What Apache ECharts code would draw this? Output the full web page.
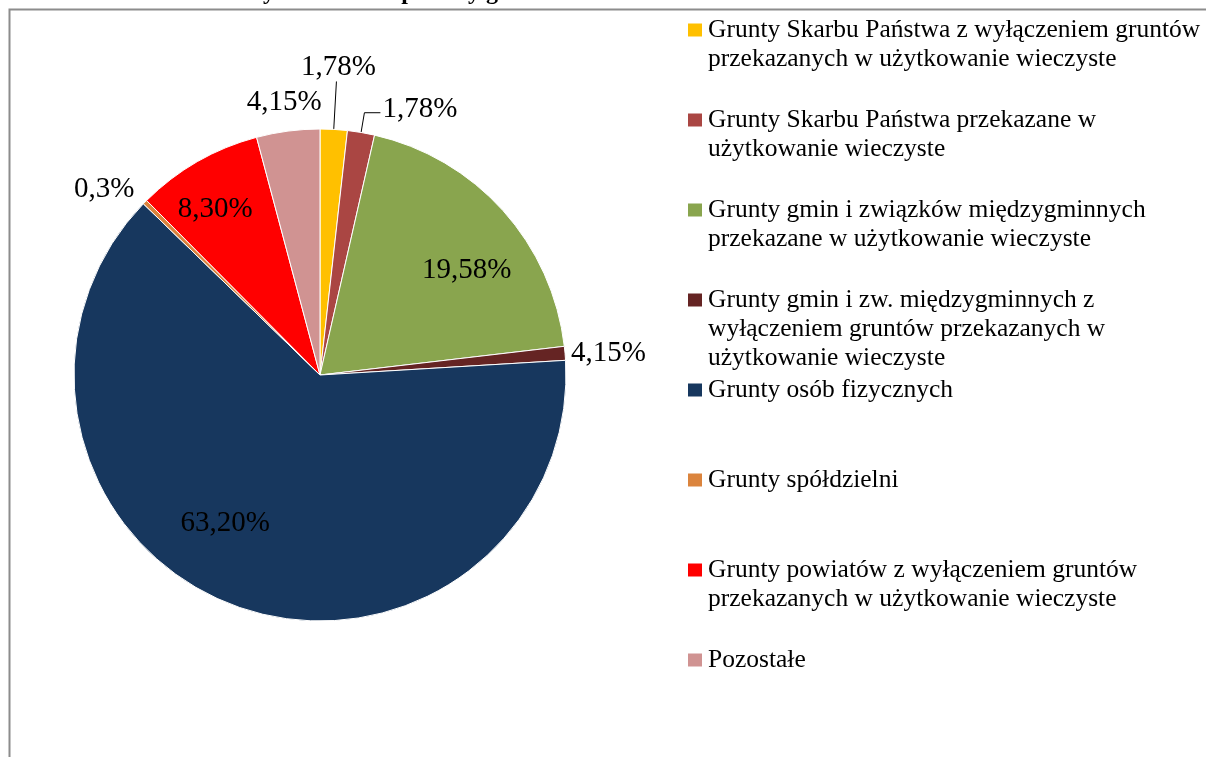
<!DOCTYPE html>
<html>
<head>
<meta charset="utf-8">
<script src="https://cdn.jsdelivr.net/npm/echarts@6/dist/echarts.min.js"></script>
<style>
  html, body { margin: 0; padding: 0; background: #fff; }
  #chart { width: 1206px; height: 757px; }
</style>
</head>
<body>
<div id="chart"></div>
<script>
const categories = [
  'Grunty Skarbu Państwa z wyłączeniem gruntów\nprzekazanych w użytkowanie wieczyste',
  'Grunty Skarbu Państwa przekazane w\nużytkowanie wieczyste',
  'Grunty gmin i związków międzygminnych\nprzekazane w użytkowanie wieczyste',
  'Grunty gmin i zw. międzygminnych z\nwyłączeniem gruntów przekazanych w\nużytkowanie wieczyste',
  'Grunty osób fizycznych',
  'Grunty spółdzielni',
  'Grunty powiatów z wyłączeniem gruntów\nprzekazanych w użytkowanie wieczyste',
  'Pozostałe'
]
// slice sizes as drawn
const values = [1.78, 1.78, 19.58, 0.91, 63.2, 0.3, 8.3, 4.15]
// label texts as printed on the chart
const labelTexts = ['1,78%', '1,78%', '19,58%', '4,15%', '63,20%', '0,3%', '8,30%', '4,15%']
const colors = ['#FFC000', '#AA4643', '#89A54E', '#652423', '#17375E', '#DB843D', '#FF0000', '#D09392']
const titleText = 'Wykres 1. Stan prawny gruntów na terenie miasta Sokołów'

const serif = '"Liberation Serif", "Times New Roman", serif'

// per slice label setup
const labelCfg = {
  0: { position: 'outside', line: true, length: 48, length2: 0 },
  1: { position: 'outside', line: true, length: 20, length2: 16 },
  2: { position: 'inside' },
  3: { position: 'outside', line: false, length: 4, length2: 0 },
  4: { position: 'inside' },
  5: { position: 'outside', line: false, length: 12, length2: 0 },
  6: { position: 'inside' },
  7: { position: 'outside', line: false, length: 14, length2: 0 },
}
const labelShift = { 1: [0, -3], 2: [53, -20], 4: [-51, 30], 5: [0, -4], 6: [-42, -56] }

const pieData = categories.map((name, i) => {
  const c = labelCfg[i]
  return {
    name,
    value: values[i],
    itemStyle: { color: colors[i] },
    label: { position: c.position },
    labelLine: {
      show: !!c.line,
      length: c.length || 0,
      length2: c.length2 || 0,
    },
  }
})

// one legend per entry, Excel spreads them evenly down the right side
const legends = categories.map((name, i) => {
  const lines = name.split('\n').length
  return {
    data: [name],
    left: 686,
    top: 30 + i * 90 - 14.5 * (2 * lines - 1),
    padding: 0,
    orient: 'vertical',
    icon: 'rect',
    itemWidth: 16,
    itemHeight: 15,
    selectedMode: false,
    // blank lines on top keep the square level with the first line
    formatter: (n) => ' \n'.repeat(lines - 1) + n,
    textStyle: {
      fontFamily: serif,
      fontSize: 25.5,
      lineHeight: 29,
      color: '#000',
    },
  }
})

const chart = echarts.init(document.getElementById('chart'))

chart.setOption({
  animation: false,
  backgroundColor: '#fff',
  title: {
    text: titleText,
    left: 235,
    top: -24,
    textStyle: { fontFamily: serif, fontSize: 24, fontWeight: 'bold', color: '#000' },
  },
  graphic: [
    {
      type: 'rect',
      left: 7,
      top: 7,
      shape: { width: 1300, height: 900 },
      style: { fill: 'none', stroke: '#8c8c8c', lineWidth: 2 },
      z: 100,
    },
  ],
  legend: legends,
  series: [
    {
      type: 'pie',
      center: [320, 375],
      radius: 246,
      startAngle: 90,
      clockwise: true,
      avoidLabelOverlap: false,
      itemStyle: { borderColor: '#fff', borderWidth: 1 },
      label: {
        fontFamily: serif,
        fontSize: 29,
        color: '#000',
        distanceToLabelLine: 2,
        formatter: (p) => labelTexts[p.dataIndex],
      },
      labelLine: { lineStyle: { color: '#000', width: 1 }, smooth: false },
      labelLayout: (p) => {
        const i = p.dataIndex
        if (i === 0 || i === 7) return { align: 'center', verticalAlign: 'bottom' }
        if (labelShift[i]) return { dx: labelShift[i][0], dy: labelShift[i][1] }
        return {}
      },
      data: pieData,
    },
  ],
})
</script>
</body>
</html>
